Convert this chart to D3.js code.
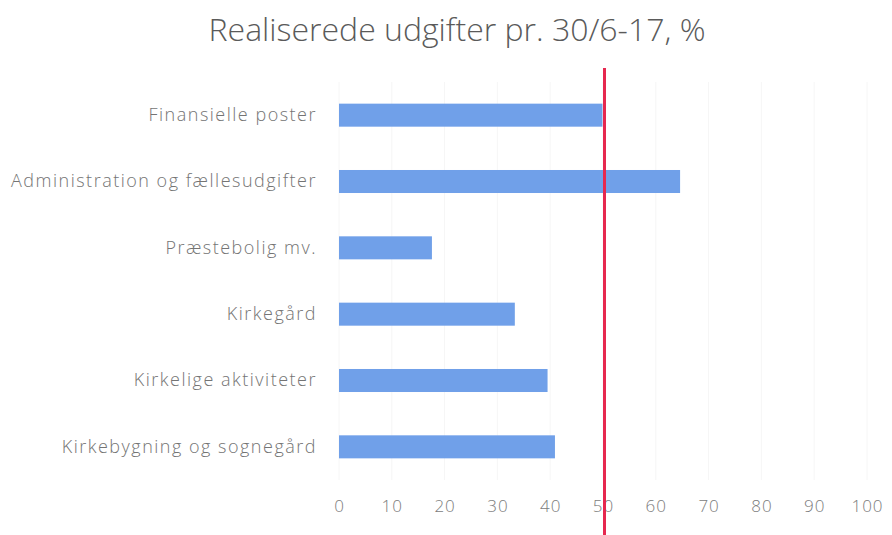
<!DOCTYPE html>
<html>
<head>
<meta charset="utf-8">
<script src="https://cdn.jsdelivr.net/npm/d3@7"></script>
<style>
    body { margin: 0; background: #fff; }
    text { font-family: "Open Sans", sans-serif; }
</style>
</head>
<body>
<div id="chart"></div>
<script>
var categories = ["Finansielle poster", "Administration og fællesudgifter", "Præstebolig mv.",
    "Kirkegård", "Kirkelige aktiviteter", "Kirkebygning og sognegård"];
var values = [49.9, 64.6, 17.6, 33.3, 39.5, 40.9];
var xTicks = [0, 10, 20, 30, 40, 50, 60, 70, 80, 90, 100];
var target = 50;

const w = 892;
const h = 535;

const svg = d3.select("#chart")
    .append("svg")
    .attr("width", w)
    .attr("height", h);

const xScale = d3.scaleLinear()
    .domain([0, 100])
    .range([339, 867]);

const yScale = d3.scaleBand()
    .domain(categories)
    .range([82, 480])
    .paddingInner(0.653)
    .paddingOuter(0.3265);

// title
svg.append("text")
    .attr("x", 457)
    .attr("y", 41)
    .attr("text-anchor", "middle")
    .style("font-size", "32px")
    .style("font-weight", 300)
    .style("fill", "#5a5a5a")
    .text("Realiserede udgifter pr. 30/6-17, %");

// faint gridlines
svg.append("g")
    .selectAll("line")
    .data(xTicks)
    .enter()
    .append("line")
    .attr("x1", (d) => xScale(d))
    .attr("x2", (d) => xScale(d))
    .attr("y1", 82)
    .attr("y2", 480)
    .style("stroke", "#f6f6f6")
    .style("stroke-width", 1);

svg.selectAll("rect")
    .data(values)
    .enter()
    .append("rect")
    .attr("x", xScale(0))
    .attr("y", (d, i) => yScale(categories[i]))
    .attr("width", (d) => xScale(d) - xScale(0))
    .attr("height", yScale.bandwidth())
    .style("fill", "#70a0e9");

// y axis labels
const yAxis = d3.axisLeft(yScale).tickSize(0).tickPadding(0);
const gy = svg.append("g")
    .attr("transform", "translate(317,0)")
    .call(yAxis);
gy.select(".domain").remove();
gy.selectAll("text")
    .style("font-family", "Open Sans, sans-serif")
    .style("font-size", "18px")
    .style("font-weight", 300)
    .style("letter-spacing", "1.5px")
    .style("fill", "#747474");

// x axis labels
const xAxis = d3.axisBottom(xScale).tickValues(xTicks).tickSize(0).tickPadding(0);
const gx = svg.append("g")
    .attr("transform", "translate(0,500)")
    .call(xAxis);
gx.select(".domain").remove();
gx.selectAll("text")
    .style("font-family", "Open Sans, sans-serif")
    .style("font-size", "17px")
    .style("font-weight", 300)
    .style("letter-spacing", "1px")
    .style("fill", "#7c7c7c");

// 50% line
svg.append("line")
    .attr("x1", xScale(target) + 1.5)
    .attr("x2", xScale(target) + 1.5)
    .attr("y1", 68)
    .attr("y2", h)
    .style("stroke", "#e6284f")
    .style("stroke-width", 3);
</script>
</body>
</html>
